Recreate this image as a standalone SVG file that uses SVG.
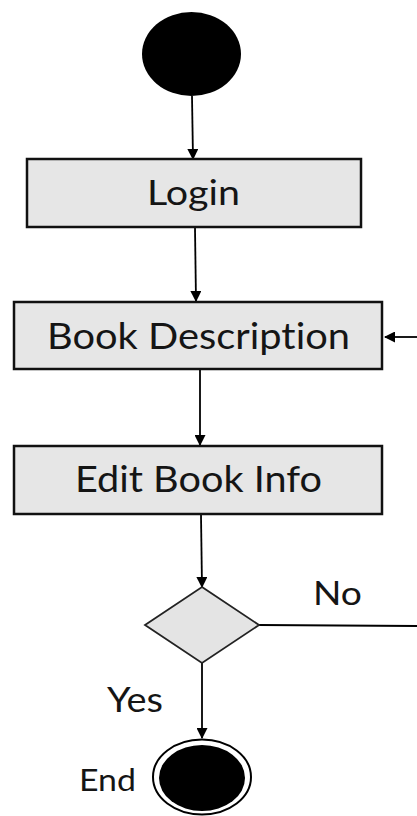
<svg xmlns="http://www.w3.org/2000/svg" width="417" height="816" viewBox="0 0 417 816">
<defs>
<marker id="arr" markerWidth="11" markerHeight="11" refX="10" refY="5.5" orient="auto" markerUnits="userSpaceOnUse">
<path d="M0,0 L11,5.5 L0,11 Z" fill="#000"/>
</marker>
</defs>
<style>
.box{fill:#e6e6e6;stroke:#111;stroke-width:2.5}
.dia{fill:#e4e4e4;stroke:#222;stroke-width:1.8}
.lbl{font-family:"Lato","Open Sans","Liberation Sans",sans-serif;fill:#151515;font-variant-ligatures:none;font-feature-settings:"liga" 0}
.edge{stroke:#000;stroke-width:1.8;fill:none}
</style>
<rect width="417" height="816" fill="#fff"/>
<g id="connectors">
<line class="edge" x1="192" y1="96" x2="193" y2="159" marker-end="url(#arr)"/>
<line class="edge" x1="195" y1="228" x2="196" y2="301" marker-end="url(#arr)"/>
<line class="edge" x1="200" y1="370" x2="200" y2="445" marker-end="url(#arr)"/>
<line class="edge" x1="201" y1="515" x2="202" y2="587" marker-end="url(#arr)"/>
<line class="edge" x1="202" y1="663" x2="202" y2="738" marker-end="url(#arr)"/>
<line class="edge" x1="259" y1="625" x2="417" y2="626"/>
<line class="edge" x1="417" y1="337" x2="385" y2="337" marker-end="url(#arr)"/>
</g>
<g id="start">
<ellipse cx="191.5" cy="54" rx="49.5" ry="42" fill="#000"/>
</g>
<g id="login">
<rect class="box" x="27" y="159" width="334" height="68"/>
<text class="lbl" x="193.5" y="205" font-size="35" text-anchor="middle" textLength="93" lengthAdjust="spacingAndGlyphs">Login</text>
</g>
<g id="book-description">
<rect class="box" x="14" y="302" width="368" height="67"/>
<text class="lbl" x="198.5" y="349" font-size="36" text-anchor="middle" textLength="303" lengthAdjust="spacingAndGlyphs">Book Description</text>
</g>
<g id="edit-book-info">
<rect class="box" x="14" y="446" width="368" height="68"/>
<text class="lbl" x="198.5" y="492" font-size="37" text-anchor="middle" textLength="247" lengthAdjust="spacingAndGlyphs">Edit Book Info</text>
</g>
<g id="decision">
<polygon class="dia" points="202,587 259,625 202,663 145,625"/>
<text class="lbl" x="313" y="605" font-size="32" textLength="49" lengthAdjust="spacingAndGlyphs">No</text>
<text class="lbl" x="107" y="712" font-size="35" textLength="56" lengthAdjust="spacingAndGlyphs">Yes</text>
</g>
<g id="end">
<ellipse cx="202" cy="777" rx="49" ry="37.5" fill="#fff" stroke="#000" stroke-width="2"/>
<ellipse cx="202" cy="778" rx="43" ry="33" fill="#000"/>
<text class="lbl" x="79" y="791" font-size="31" textLength="57" lengthAdjust="spacingAndGlyphs">End</text>
</g>
</svg>
